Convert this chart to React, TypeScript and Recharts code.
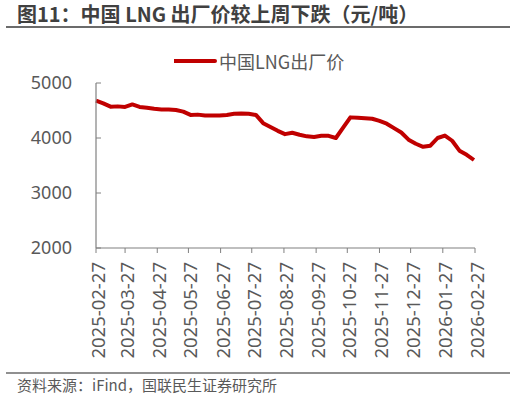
import React from 'react';
import { LineChart, Line, XAxis, YAxis, Legend } from 'recharts';

const dates = [
  '2025-02-27', '2025-03-06', '2025-03-13', '2025-03-20', '2025-03-27', '2025-04-03', '2025-04-10',
  '2025-04-17', '2025-04-24', '2025-05-01', '2025-05-08', '2025-05-15', '2025-05-22', '2025-05-29',
  '2025-06-05', '2025-06-12', '2025-06-19', '2025-06-26', '2025-07-03', '2025-07-10', '2025-07-17',
  '2025-07-24', '2025-07-31', '2025-08-07', '2025-08-14', '2025-08-21', '2025-08-28', '2025-09-04',
  '2025-09-11', '2025-09-18', '2025-09-25', '2025-10-02', '2025-10-09', '2025-10-16', '2025-10-23',
  '2025-10-30', '2025-11-06', '2025-11-13', '2025-11-20', '2025-11-27', '2025-12-04', '2025-12-11',
  '2025-12-18', '2025-12-25', '2026-01-01', '2026-01-08', '2026-01-15', '2026-01-22', '2026-01-29',
  '2026-02-05', '2026-02-12', '2026-02-19', '2026-02-26',
];

const prices = [
  4680, 4630, 4570, 4575, 4565, 4610, 4565,
  4550, 4530, 4520, 4520, 4510, 4480, 4420,
  4425, 4410, 4410, 4410, 4420, 4440, 4445,
  4440, 4420, 4270, 4200, 4130, 4070, 4095,
  4060, 4030, 4020, 4040, 4040, 4000, 4190,
  4375, 4370, 4360, 4350, 4310, 4260, 4180,
  4100, 3970, 3895, 3840, 3860, 4000, 4045,
  3950, 3770, 3695, 3600,
];

const tickDates = [
  '2025-02-27', '2025-03-27', '2025-04-27', '2025-05-27', '2025-06-27', '2025-07-27', '2025-08-27',
  '2025-09-27', '2025-10-27', '2025-11-27', '2025-12-27', '2026-01-27', '2026-02-27',
];

const yTicks = [2000, 3000, 4000, 5000];

const seriesName = '中国LNG出厂价';
const title = '图11：中国 LNG 出厂价较上周下跌（元/吨）';
const source = '资料来源：iFind，国联民生证券研究所';

const data = dates.map((d, i) => ({ t: Date.parse(d), price: prices[i] }));
const xTicks = tickDates.map(d => Date.parse(d));

const RED = '#C00000';
const AXIS = '#808080';
const LABEL = '#595959';

const XTick = (props: any) => {
  const { x, y, payload } = props;
  const label = new Date(payload.value).toISOString().slice(0, 10);
  const tx = x + 9;
  const ty = y + 7;
  return (
    <text x={tx} y={ty} transform={`rotate(-90 ${tx} ${ty})`} textAnchor="end"
      fill={LABEL} fontSize={18.5} fontFamily="'Noto Sans', sans-serif">
      {label}
    </text>
  );
};

// y ticks point into the plot, labels sit left of the axis
const YTick = (props: any) => {
  const { y, payload } = props;
  const axisX = 96;
  return (
    <g>
      <line x1={axisX} x2={axisX + 5} y1={y} y2={y} stroke={AXIS} strokeWidth={1} />
      <text x={axisX - 24} y={y} dy="0.36em" textAnchor="end" fill={LABEL}
        fontSize={18} fontFamily="'Noto Sans', sans-serif">
        {payload.value}
      </text>
    </g>
  );
};

const LegendContent = (props: any) => {
  const item = props.payload && props.payload[0];
  if (!item) return null;
  return (
    <div style={{ display: 'flex', alignItems: 'center', whiteSpace: 'nowrap' }}>
      <svg width={45} height={10}>
        <line x1={0} x2={41} y1={5} y2={5} stroke={RED} strokeWidth={4} strokeLinecap="round" />
      </svg>
      <span style={{ fontSize: 18, color: LABEL, fontFamily: "'Noto Sans CJK SC', sans-serif", lineHeight: '24px' }}>
        {item.value}
      </span>
    </div>
  );
};

export default function App() {
  return (
    <div style={{ position: 'absolute', left: 0, top: 0, width: 516, height: 400, background: '#fff' }}>
      <LineChart width={516} height={400} data={data}
        margin={{ top: 83, right: 41, bottom: 32, left: 36 }}>
        <XAxis dataKey="t" type="number" domain={[xTicks[0], xTicks[xTicks.length - 1]]}
          ticks={xTicks} interval={0} height={120} tickSize={5}
          axisLine={{ stroke: AXIS, strokeWidth: 1.2 }} tickLine={{ stroke: AXIS }}
          tick={<XTick />} />
        <YAxis type="number" domain={[2000, 5000]} ticks={yTicks} width={60}
          axisLine={{ stroke: AXIS, strokeWidth: 1.2 }} tickLine={false} tick={<YTick />} />
        <Legend verticalAlign="middle" layout="horizontal" content={<LegendContent />}
          wrapperStyle={{ top: 49, left: 174, width: 'auto', height: 'auto' }} />
        <Line type="linear" dataKey="price" name={seriesName} stroke={RED} strokeWidth={4}
          dot={false} strokeLinejoin="round" isAnimationActive={false} />
      </LineChart>
      <svg width={516} height={400} style={{ position: 'absolute', left: 0, top: 0, pointerEvents: 'none' }}>
        <text x={17} y={22} fontSize={20} fontWeight="bold" fill="#404040"
          fontFamily="'Noto Sans CJK SC', sans-serif">{title}</text>
        <line x1={6} x2={510} y1={27} y2={27} stroke="#6b6b6b" strokeWidth={2} />
        <line x1={6} x2={510} y1={373} y2={373} stroke="#6b6b6b" strokeWidth={1.5} />
        <text x={17} y={390.5} fontSize={15} fill={LABEL}
          fontFamily="'Noto Sans CJK SC', sans-serif">{source}</text>
      </svg>
    </div>
  );
}
